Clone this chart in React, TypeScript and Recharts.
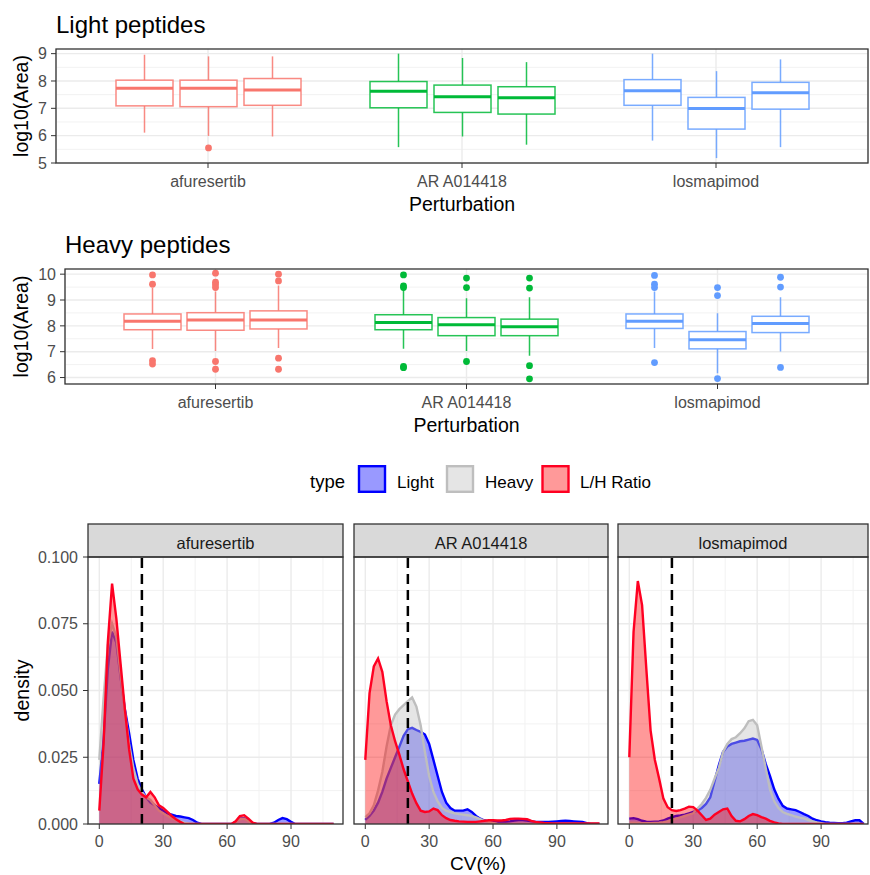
import { ComposedChart, Bar, Area, XAxis, YAxis, CartesianGrid, ReferenceLine } from 'recharts';

const FONT = '"Liberation Sans", Arial, Helvetica, sans-serif';
const TICK_GREY = '#4D4D4D';
const FRAME = '#333333';
const groupColors = ['#F8766D', '#00BA38', '#619CFF'];

// ---- boxplot data (3 boxes per perturbation) ----
const perturbations = ['afuresertib', 'AR A014418', 'losmapimod'];

const lightLow = [[6.11, 5.99, 5.97], [5.58, 5.97, 5.67], [5.82, 5.18, 5.58]];
const lightQ1 = [[7.09, 7.06, 7.11], [7.02, 6.85, 6.79], [7.11, 6.24, 6.97]];
const lightMedian = [[7.73, 7.73, 7.67], [7.62, 7.42, 7.39], [7.64, 6.99, 7.57]];
const lightQ3 = [[8.03, 8.03, 8.09], [7.98, 7.85, 7.79], [8.05, 7.4, 7.95]];
const lightHigh = [[8.96, 8.9, 8.9], [9.0, 8.84, 8.69], [9.0, 8.36, 8.79]];
const lightOutliers = [[[], [5.55], []], [[], [], []], [[], [], []]];

const heavyLow = [[7.1, 7.03, 7.14], [7.11, 7.03, 6.84], [7.14, 6.17, 7.01]];
const heavyQ1 = [[7.85, 7.83, 7.88], [7.85, 7.62, 7.62], [7.9, 7.11, 7.74]];
const heavyMedian = [[8.18, 8.23, 8.23], [8.13, 8.04, 7.97], [8.18, 7.46, 8.09]];
const heavyQ3 = [[8.46, 8.51, 8.58], [8.43, 8.32, 8.26], [8.46, 7.78, 8.37]];
const heavyHigh = [[9.46, 9.33, 9.56], [9.39, 9.07, 9.11], [9.33, 8.49, 9.11]];
const heavyOutliers = [
  [[9.97, 9.61, 6.65, 6.52], [10.04, 9.69, 9.59, 9.48, 6.62, 6.32], [10.0, 9.74, 6.75, 6.32]],
  [[9.97, 9.55, 9.48, 6.43, 6.38], [9.85, 9.48, 6.62], [9.85, 9.46, 6.46, 5.95]],
  [[9.95, 9.61, 9.48, 6.58], [9.48, 9.17, 5.96], [9.88, 9.5, 6.39]],
];

// ---- CV density data ----
const cvGrid = [
  0, 2, 4, 6, 8, 10, 12, 14, 16, 18, 20, 22, 24, 26, 28, 30, 32, 34, 36, 38,
  40, 42, 44, 46, 48, 50, 52, 54, 56, 58, 60, 62, 64, 66, 68, 70, 72, 74, 76, 78,
  80, 82, 84, 86, 88, 90, 92, 94, 96, 98, 100, 102, 104, 106, 108, 110,
];

const afuLight = [
  0.015, 0.032, 0.058, 0.072, 0.068, 0.055, 0.043, 0.034, 0.024, 0.017,
  0.013, 0.01, 0.008, 0.007, 0.006, 0.005, 0.004, 0.0035, 0.003, 0.0028,
  0.0025, 0.0022, 0.0015, 0.0005, 0, 0, 0, 0, 0, 0,
  0, 0, 0.0008, 0.002, 0.0022, 0.0012, 0.0003, 0, 0, 0,
  0, 0.0005, 0.0015, 0.0022, 0.0018, 0.0008, 0, 0, 0, 0,
  0, 0, 0, 0, 0, 0,
];
const afuHeavy = [
  0.024, 0.047, 0.067, 0.075, 0.07, 0.056, 0.042, 0.03, 0.021, 0.015,
  0.012, 0.01, 0.009, 0.007, 0.005, 0.004, 0.003, 0.0022, 0.0015, 0.001,
  0.0005, 0.0002, 0, 0, 0, 0, 0, 0, 0, 0,
  0, 0, 0.0007, 0.0018, 0.002, 0.001, 0, 0, 0, 0,
  0, 0, 0, 0, 0, 0, 0, 0, 0, 0,
  0, 0, 0, 0, 0, 0,
];
const afuRatio = [
  0.005, 0.03, 0.068, 0.09, 0.077, 0.06, 0.043, 0.028, 0.017, 0.013,
  0.011, 0.01, 0.012, 0.01, 0.007, 0.006, 0.0045, 0.003, 0.0018, 0.0008,
  0, 0, 0, 0, 0, 0, 0, 0, 0, 0,
  0, 0, 0.001, 0.003, 0.0033, 0.002, 0.0005, 0, 0, 0,
  0, 0, 0, 0, 0, 0, 0, 0, 0, 0,
  0, 0, 0, 0, 0, 0,
];

const arLight = [
  0.0015, 0.003, 0.005, 0.008, 0.012, 0.017, 0.021, 0.025, 0.029, 0.033,
  0.0355, 0.036, 0.0352, 0.0345, 0.0335, 0.03, 0.024, 0.018, 0.012, 0.008,
  0.006, 0.005, 0.005, 0.005, 0.0055, 0.0045, 0.003, 0.002, 0.0013, 0.001,
  0.0008, 0.0008, 0.0008, 0.0008, 0.001, 0.0013, 0.0015, 0.0015, 0.0013, 0.001,
  0.0008, 0.0008, 0.0008, 0.0008, 0.0009, 0.001, 0.0011, 0.0012, 0.0011, 0.001,
  0.0009, 0.0008, 0.0003, 0, 0, 0,
];
const arHeavy = [
  0.0026, 0.004, 0.007, 0.0125, 0.0195, 0.029, 0.037, 0.041, 0.043, 0.0445,
  0.046, 0.0474, 0.044, 0.037, 0.027, 0.018, 0.012, 0.0085, 0.006, 0.005,
  0.0045, 0.004, 0.0037, 0.0035, 0.0033, 0.003, 0.0025, 0.0018, 0.0012, 0.0008,
  0.0004, 0.0001, 0, 0, 0, 0, 0, 0, 0, 0,
  0, 0, 0, 0, 0, 0, 0, 0, 0, 0,
  0, 0, 0, 0, 0, 0,
];
const arRatio = [
  0.024, 0.049, 0.059, 0.062, 0.057, 0.046, 0.037, 0.031, 0.026, 0.0205,
  0.016, 0.0114, 0.0078, 0.005, 0.0045, 0.0047, 0.0058, 0.0052, 0.0033, 0.0022,
  0.0015, 0.0012, 0.001, 0.0009, 0.0008, 0.0008, 0.0008, 0.001, 0.0012, 0.0014,
  0.0014, 0.0013, 0.0013, 0.0015, 0.0019, 0.002, 0.002, 0.0019, 0.0018, 0.0012,
  0.0008, 0.0006, 0.0004, 0.0003, 0.0002, 0.0002, 0.0002, 0.0002, 0.0002, 0.0002,
  0.0002, 0.0002, 0.0002, 0.0002, 0.0002, 0.0002,
];

const losLight = [
  0.002, 0.0022, 0.0018, 0.0012, 0.0009, 0.0008, 0.0009, 0.001, 0.0013, 0.002,
  0.0026, 0.003, 0.0032, 0.0035, 0.004, 0.0045, 0.005, 0.006, 0.0075, 0.01,
  0.016, 0.022, 0.027, 0.029, 0.03, 0.0305, 0.031, 0.0312, 0.0316, 0.032,
  0.0315, 0.028, 0.0225, 0.018, 0.013, 0.0095, 0.0068, 0.0058, 0.0055, 0.0052,
  0.0045, 0.0037, 0.003, 0.002, 0.0014, 0.001, 0.0007, 0.0005, 0.0004, 0.0003,
  0.0003, 0.0005, 0.001, 0.0014, 0.0014, 0,
];
const losHeavy = [
  0.0005, 0.0005, 0.0004, 0.0003, 0.0003, 0.0003, 0.0004, 0.0005, 0.0007, 0.001,
  0.0015, 0.002, 0.0025, 0.003, 0.0035, 0.004, 0.0058, 0.0075, 0.0098, 0.0128,
  0.017, 0.021, 0.027, 0.03, 0.0318, 0.0325, 0.034, 0.0358, 0.0385, 0.039,
  0.037, 0.029, 0.021, 0.013, 0.0085, 0.006, 0.0045, 0.0038, 0.0033, 0.0028,
  0.0024, 0.0021, 0.0015, 0.001, 0.0006, 0.0003, 0, 0, 0, 0,
  0, 0, 0, 0, 0, 0,
];
const losRatio = [
  0.025, 0.072, 0.091, 0.082, 0.058, 0.035, 0.024, 0.017, 0.0095, 0.0063,
  0.0052, 0.0049, 0.0052, 0.0058, 0.0065, 0.0063, 0.005, 0.0033, 0.0015, 0.002,
  0.0035, 0.0045, 0.0055, 0.0058, 0.003, 0.0012, 0.001, 0.0018, 0.003, 0.0037,
  0.0033, 0.0026, 0.002, 0.0012, 0.0006, 0.0002, 0, 0, 0, 0,
  0, 0, 0, 0, 0, 0, 0, 0, 0, 0,
  0, 0, 0, 0, 0, 0,
];

const densityTicksY = [0, 0.025, 0.05, 0.075, 0.1];
const densityMinorY = [0.0125, 0.0375, 0.0625, 0.0875];
const cvTicks = [0, 30, 60, 90];
const cvMinor = [15, 45, 75, 105];

function buildBoxRows(low: number[][], q1: number[][], med: number[][], q3: number[][], high: number[][], out: number[][][]) {
  return perturbations.map((p, i) => {
    const row: any = { perturbation: p };
    [0, 1, 2].forEach((j) => {
      row[`box${j}`] = [low[i][j], high[i][j]];
      row[`stats${j}`] = { low: low[i][j], q1: q1[i][j], median: med[i][j], q3: q3[i][j], high: high[i][j], outliers: out[i][j] };
    });
    return row;
  });
}

const lightRows = buildBoxRows(lightLow, lightQ1, lightMedian, lightQ3, lightHigh, lightOutliers);
const heavyRows = buildBoxRows(heavyLow, heavyQ1, heavyMedian, heavyQ3, heavyHigh, heavyOutliers);

const densityRows = (light: number[], heavy: number[], ratio: number[]) =>
  cvGrid.map((cv, i) => ({ cv, light: light[i], heavy: heavy[i], ratio: ratio[i] }));

// box drawn inside the bar's whisker range, positions interpolated from the bar's scaled extent
function BoxShape(props: any) {
  const { x, y, width, height, payload, box } = props;
  const s = payload[`stats${box}`];
  const color = groupColors[perturbations.indexOf(payload.perturbation)];
  const top = Math.min(y, y + height);
  const bottom = Math.max(y, y + height);
  const toPx = (v: number) => top + ((s.high - v) / (s.high - s.low)) * (bottom - top);
  const cx = x + width / 2;
  return (
    <g>
      <line x1={cx} x2={cx} y1={toPx(s.high)} y2={toPx(s.q3)} stroke={color} strokeWidth={1.5} strokeOpacity={0.85} />
      <line x1={cx} x2={cx} y1={toPx(s.q1)} y2={toPx(s.low)} stroke={color} strokeWidth={1.5} strokeOpacity={0.85} />
      <rect x={x} y={toPx(s.q3)} width={width} height={toPx(s.q1) - toPx(s.q3)} fill="#FFFFFF" stroke={color} strokeWidth={1.5} strokeOpacity={0.85} />
      <line x1={x} x2={x + width} y1={toPx(s.median)} y2={toPx(s.median)} stroke={color} strokeWidth={3} />
      {s.outliers.map((v: number, k: number) => (
        <circle key={k} cx={cx} cy={toPx(v)} r={3.4} fill={color} />
      ))}
    </g>
  );
}

interface BoxPanelProps {
  rows: any[];
  top: number;
  yDomain: [number, number];
  yTicks: number[];
  yMinor: number[];
  yWidth: number;
  bottom: number;
  barGap: number;
}

function BoxPanel({ rows, top, yDomain, yTicks, yMinor, yWidth, bottom, barGap }: BoxPanelProps) {
  return (
    <div style={{ position: 'absolute', left: 0, top }}>
      <ComposedChart width={870} height={220} data={rows} margin={{ top: 49, right: 2, bottom, left: 0 }} barSize={57} barGap={barGap}>
        <CartesianGrid horizontalValues={yMinor} vertical={false} stroke="#F2F2F2" strokeWidth={1} />
        <CartesianGrid horizontalValues={yTicks} stroke="#EBEBEB" strokeWidth={1.4} />
        <XAxis
          dataKey="perturbation"
          padding={{ left: 25, right: 25 }}
          axisLine={false}
          tickLine={{ stroke: FRAME }}
          tickSize={5}
          tickMargin={8}
          height={50}
          tick={{ fill: TICK_GREY, fontSize: 16 }}
          label={{ value: 'Perturbation', position: 'insideBottom', offset: 2, fill: '#000', fontSize: 19.5 }}
        />
        <YAxis
          type="number"
          domain={yDomain}
          ticks={yTicks}
          allowDataOverflow
          width={yWidth}
          axisLine={false}
          tickLine={{ stroke: FRAME }}
          tickSize={5}
          tickMargin={4}
          tick={{ fill: TICK_GREY, fontSize: 16 }}
          label={{ value: 'log10(Area)', angle: -90, position: 'insideLeft', offset: 21, fill: '#000', fontSize: 19.5, style: { textAnchor: 'middle' } }}
        />
        {[0, 1, 2].map((j) => (
          <Bar key={j} dataKey={`box${j}`} isAnimationActive={false} shape={(p: any) => <BoxShape {...p} box={j} />} />
        ))}
      </ComposedChart>
    </div>
  );
}

interface FacetProps {
  rows: any[];
  left: number;
  width: number;
  xMax: number;
  showY: boolean;
}

function DensityFacet({ rows, left, width, xMax, showY }: FacetProps) {
  return (
    <div style={{ position: 'absolute', left, top: 520 }}>
      <ComposedChart width={width} height={355} data={rows} margin={{ top: 37, right: 1, bottom: 21, left: 0 }}>
        <CartesianGrid horizontalValues={densityMinorY} verticalValues={cvMinor} stroke="#F2F2F2" strokeWidth={1} />
        <CartesianGrid horizontalValues={densityTicksY} verticalValues={cvTicks} stroke="#EBEBEB" strokeWidth={1.4} />
        <XAxis
          type="number"
          dataKey="cv"
          domain={[-5.3, xMax]}
          ticks={cvTicks}
          allowDataOverflow
          axisLine={false}
          tickLine={{ stroke: FRAME }}
          tickSize={5}
          tickMargin={7}
          height={30}
          tick={{ fill: TICK_GREY, fontSize: 16 }}
        />
        <YAxis
          type="number"
          domain={[0, 0.1]}
          ticks={densityTicksY}
          allowDataOverflow
          hide={!showY}
          width={88}
          axisLine={false}
          tickLine={{ stroke: FRAME }}
          tickSize={5}
          tickMargin={5}
          tick={{ fill: TICK_GREY, fontSize: 16 }}
          tickFormatter={(v: number) => v.toFixed(3)}
          label={{ value: 'density', angle: -90, position: 'insideLeft', offset: 22, fill: '#000', fontSize: 19.5, style: { textAnchor: 'middle' } }}
        />
        <Area type="linear" dataKey="light" stroke="#0000FF" strokeWidth={2.4} fill="#0000FF" fillOpacity={0.4} dot={false} isAnimationActive={false} />
        <Area type="linear" dataKey="heavy" stroke="#BEBEBE" strokeWidth={2.4} fill="#BEBEBE" fillOpacity={0.4} dot={false} isAnimationActive={false} />
        <Area type="linear" dataKey="ratio" stroke="#FF0022" strokeWidth={2.4} fill="#FF0000" fillOpacity={0.4} dot={false} isAnimationActive={false} />
        <ReferenceLine x={20} stroke="#000000" strokeWidth={2.5} strokeDasharray="10 6" />
      </ComposedChart>
    </div>
  );
}

const legendItems = [
  { label: 'Light', fill: 'rgba(0,0,255,0.4)', stroke: '#0000FF', rx: 359, tx: 397 },
  { label: 'Heavy', fill: 'rgba(190,190,190,0.4)', stroke: '#BEBEBE', rx: 447, tx: 485 },
  { label: 'L/H Ratio', fill: 'rgba(255,0,0,0.4)', stroke: '#FF0022', rx: 542.5, tx: 580 },
];

const facets = [
  { name: 'afuresertib', x: 88, w: 255 },
  { name: 'AR A014418', x: 354, w: 254 },
  { name: 'losmapimod', x: 618, w: 250 },
];

export default function App() {
  return (
    <div style={{ position: 'absolute', left: 0, top: 0, width: 870, height: 875, background: '#FFFFFF', overflow: 'hidden', fontFamily: FONT }}>
      <BoxPanel rows={lightRows} top={0} yDomain={[5, 9.17]} yTicks={[5, 6, 7, 8, 9]} yMinor={[5.5, 6.5, 7.5, 8.5]} yWidth={56} bottom={7} barGap={7} />
      <BoxPanel rows={heavyRows} top={220} yDomain={[5.75, 10.2]} yTicks={[6, 7, 8, 9, 10]} yMinor={[6.5, 7.5, 8.5, 9.5]} yWidth={65} bottom={6} barGap={6} />

      <DensityFacet rows={densityRows(afuLight, afuHeavy, afuRatio)} left={0} width={344} xMax={114.4} showY />
      <DensityFacet rows={densityRows(arLight, arHeavy, arRatio)} left={354} width={255} xMax={114.0} showY={false} />
      <DensityFacet rows={densityRows(losLight, losHeavy, losRatio)} left={618} width={251} xMax={112.0} showY={false} />

      <svg width={870} height={875} style={{ position: 'absolute', left: 0, top: 0, pointerEvents: 'none' }}>
        <text x={56} y={33} fontSize={24} fill="#000">Light peptides</text>
        <text x={65} y={253} fontSize={24} fill="#000">Heavy peptides</text>
        <rect x={56} y={49} width={812} height={114} fill="none" stroke={FRAME} strokeWidth={1.3} />
        <rect x={65} y={269} width={803} height={115} fill="none" stroke={FRAME} strokeWidth={1.3} />

        <text x={310} y={488} fontSize={18.5} fill="#000">type</text>
        {legendItems.map((it) => (
          <g key={it.label}>
            <rect x={it.rx} y={466.2} width={26} height={25.6} fill={it.fill} stroke={it.stroke} strokeWidth={2.4} />
            <text x={it.tx} y={488} fontSize={17} fill="#000">{it.label}</text>
          </g>
        ))}

        {facets.map((f) => (
          <g key={f.name}>
            <rect x={f.x} y={524} width={f.w} height={33} fill="#D9D9D9" stroke={FRAME} strokeWidth={1.3} />
            <text x={f.x + f.w / 2} y={549} fontSize={16.5} fill="#1A1A1A" textAnchor="middle">{f.name}</text>
            <rect x={f.x} y={557} width={f.w} height={267} fill="none" stroke={FRAME} strokeWidth={1.3} />
          </g>
        ))}
        <text x={478} y={869.5} fontSize={19} fill="#000" textAnchor="middle">CV(%)</text>
      </svg>
    </div>
  );
}
